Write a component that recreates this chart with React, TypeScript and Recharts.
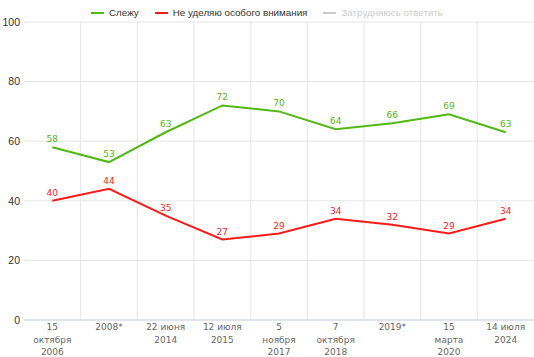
import { LineChart, Line, XAxis, YAxis, CartesianGrid, LabelList } from 'recharts';

const categories = [
  '15\nоктября\n2006',
  '2008*',
  '22 июня\n2014',
  '12 июля\n2015',
  '5\nноября\n2017',
  '7\nоктября\n2018',
  '2019*',
  '15\nмарта\n2020',
  '14 июля\n2024',
];
const follow = [58, 53, 63, 72, 70, 64, 66, 69, 63];
const noAttention = [40, 44, 35, 27, 29, 34, 32, 29, 34];
const yTicks = [0, 20, 40, 60, 80, 100];

const legendItems = [
  { name: 'Слежу', color: '#52b812', text: '#333' },
  { name: 'Не уделяю особого внимания', color: '#ff1a1a', text: '#333' },
  { name: 'Затрудняюсь ответить', color: '#cccccc', text: '#cccccc' },
];

const data = categories.map((c, i) => ({ cat: c, follow: follow[i], noAttention: noAttention[i] }));

const XTick = ({ x, y, payload }: any) => {
  const lines = String(payload.value).split('\n');
  return (
    <text x={x} y={y} textAnchor="middle" fill="#666" fontSize={9} fontFamily="DejaVu Sans">
      {lines.map((l, i) => (
        <tspan key={i} x={x} dy={i === 0 ? 10 : 12.5}>
          {l}
        </tspan>
      ))}
    </text>
  );
};

export default function App() {
  return (
    <div style={{ position: 'absolute', left: 0, top: 0, width: 534, height: 357, background: '#fff' }}>
      <div
        style={{
          position: 'absolute',
          top: 7,
          left: 0,
          width: 534,
          display: 'flex',
          justifyContent: 'center',
          fontFamily: 'Liberation Sans, Arial, sans-serif',
          fontSize: 9.8,
          zIndex: 1,
        }}
      >
        {legendItems.map((it) => (
          <div key={it.name} style={{ display: 'flex', alignItems: 'center', margin: '0 8px', color: it.text }}>
            <span style={{ display: 'inline-block', width: 13, height: 2, background: it.color, marginRight: 5 }} />
            {it.name}
          </div>
        ))}
      </div>
      <LineChart width={534} height={357} data={data} margin={{ top: 22, right: 0, bottom: 0, left: 0 }}>
        <CartesianGrid
          stroke="#e6e6e6"
          verticalCoordinatesGenerator={({ offset }: any) =>
            categories.map((_, i) => offset.left + ((i + 1) * offset.width) / categories.length).slice(0, -1)
          }
        />
        <XAxis
          dataKey="cat"
          scale="band"
          interval={0}
          height={37}
          tickSize={0}
          tickMargin={0}
          tick={<XTick />}
          stroke="#ccd6eb"
        />
        <YAxis
          domain={[0, 100]}
          ticks={yTicks}
          width={24}
          axisLine={false}
          tickLine={false}
          tickSize={0}
          tickMargin={4}
          tick={{ fill: '#333', fontSize: 10.5, fontFamily: 'Liberation Sans' }}
        />
        <Line dataKey="follow" stroke="#52b812" strokeWidth={2} dot={false} isAnimationActive={false}>
          <LabelList dataKey="follow" position="top" fill="#52b812" fontSize={9} fontFamily="DejaVu Sans" />
        </Line>
        <Line dataKey="noAttention" stroke="#ff1a1a" strokeWidth={2} dot={false} isAnimationActive={false}>
          <LabelList dataKey="noAttention" position="top" fill="#ff1a1a" fontSize={9} fontFamily="DejaVu Sans" />
        </Line>
      </LineChart>
    </div>
  );
}
